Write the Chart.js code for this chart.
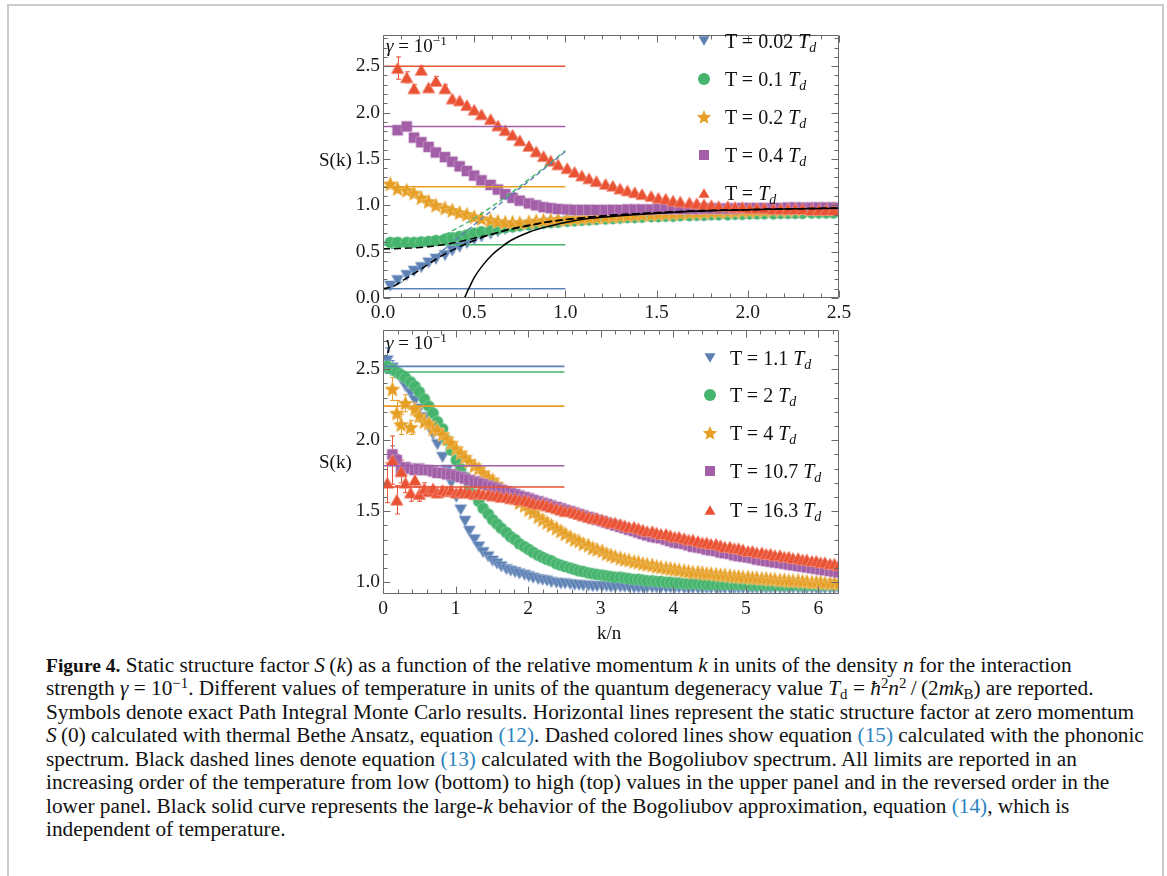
<!DOCTYPE html>
<html>
<head>
<meta charset="utf-8">
<title>Static structure factor S(k)</title>
<script src="https://cdn.jsdelivr.net/npm/chart.js@4.4.1/dist/chart.umd.min.js"></script>
<style>
  html, body { margin: 0; padding: 0; background: #fff; }
  #page { position: relative; width: 1167px; height: 876px; overflow: hidden;
          font-family: "Liberation Serif", "Times New Roman", serif; color: #111; }
  #frame { position: absolute; left: 7px; top: 4px; width: 1157px; height: 940px;
           border: 2px solid #cbcbcb; box-sizing: border-box; }
  canvas { position: absolute; }
  .lab { position: absolute; white-space: nowrap; font-size: 19px; line-height: 19px; }
  .legtxt { position: absolute; white-space: nowrap; font-size: 20px; line-height: 20px; }
  .legsym { position: absolute; overflow: visible; }
  sub { font-size: 70%; vertical-align: -0.28em; line-height: 0; }
  sup { font-size: 70%; vertical-align: 0.5em; line-height: 0; }
  #caption { position: absolute; left: 46px; top: 654px; font-size: 21.3px; line-height: 23.45px; }
  #caption div { white-space: nowrap; }
  #caption b { font-size: 19.5px; }
  .ref { color: #2b83c0; }
</style>
</head>
<body>
<div id="page">
  <div id="frame"></div>
  <canvas id="topChart" width="580" height="345" style="left:290px;top:20px"></canvas>
  <canvas id="botChart" width="580" height="310" style="left:290px;top:315px"></canvas>

  <div class="lab" style="left:319px;top:150px">S(k)</div>
  <div class="lab" style="left:319px;top:452px">S(k)</div>
  <div class="lab" style="left:386px;top:36px"><i>γ</i> = 10<sup>−1</sup></div>
  <div class="lab" style="left:386px;top:333px"><i>γ</i> = 10<sup>−1</sup></div>
  <div class="lab" style="left:597px;top:623px">k/n</div>
  <div id="legends"></div>

  <div id="caption">
    <div><b>Figure 4.</b> Static structure factor <i>S</i>&#8201;(<i>k</i>) as a function of the relative momentum <i>k</i> in units of the density <i>n</i> for the interaction</div>
    <div>strength <i>γ</i> = 10<sup>−1</sup>. Different values of temperature in units of the quantum degeneracy value <i>T</i><sub>d</sub> = <i>ħ</i><sup>2</sup><i>n</i><sup>2</sup>&#8201;/&#8201;(2<i>mk</i><sub>B</sub>) are reported.</div>
    <div>Symbols denote exact Path Integral Monte Carlo results. Horizontal lines represent the static structure factor at zero momentum</div>
    <div><i>S</i>&#8201;(0) calculated with thermal Bethe Ansatz, equation <span class="ref">(12)</span>. Dashed colored lines show equation <span class="ref">(15)</span> calculated with the phononic</div>
    <div>spectrum. Black dashed lines denote equation <span class="ref">(13)</span> calculated with the Bogoliubov spectrum. All limits are reported in an</div>
    <div>increasing order of the temperature from low (bottom) to high (top) values in the upper panel and in the reversed order in the</div>
    <div>lower panel. Black solid curve represents the large-<i>k</i> behavior of the Bogoliubov approximation, equation <span class="ref">(14)</span>, which is</div>
    <div>independent of temperature.</div>
  </div>
</div>

<script>
// Colores de las series
const BLUE = "#5e81b5";
const GREEN = "#45b46d";
const ORANGE = "#e69f24";
const PURPLE = "#a25ea6";
const RED = "#ea5234";

// ---------- Panel superior (T bajas) ----------
const topXTicks = [0, 0.5, 1.0, 1.5, 2.0, 2.5];
const topYTicks = [0, 0.5, 1.0, 1.5, 2.0, 2.5];
const topLegend = ["0.02", "0.1", "0.2", "0.4", ""];

const kTop = [0.04,0.08,0.13,0.17,0.21,0.25,0.29,0.34,0.38,0.42,0.46,0.50,0.54,0.59,0.63,0.67,0.71,0.75,0.80,0.84,
  0.88,0.92,0.96,1.01,1.05,1.09,1.13,1.17,1.22,1.26,1.30,1.34,1.38,1.42,1.47,1.51,1.55,1.59,1.63,1.68,
  1.72,1.76,1.80,1.84,1.89,1.93,1.97,2.01,2.05,2.09,2.14,2.18,2.22,2.26,2.30,2.35,2.39,2.43,2.47];

// T = 0.02 Td
const sTop002 = [0.13,0.19,0.245,0.29,0.33,0.38,0.42,0.46,0.51,0.55, 0.59,0.63,0.66,0.69,0.715,0.74,0.755,0.77,0.78,0.79,
  0.80,0.805,0.81,0.82,0.825,0.83,0.835,0.84,0.845,0.85, 0.855,0.86,0.86,0.865,0.87,0.87,0.875,0.875,0.88,0.88,
  0.885,0.885,0.89,0.89,0.89,0.895,0.895,0.90,0.90,0.90, 0.90,0.905,0.905,0.905,0.905,0.91,0.91,0.91,0.91];
// T = 0.1 Td
const sTop01 = [0.60,0.60,0.60,0.60,0.605,0.61,0.62,0.635,0.65,0.665, 0.68,0.70,0.715,0.73,0.745,0.76,0.77,0.78,0.79,0.80,
  0.81,0.815,0.82,0.83,0.835,0.84,0.845,0.85,0.855,0.86, 0.865,0.87,0.87,0.875,0.88,0.88,0.885,0.885,0.89,0.89,
  0.895,0.895,0.90,0.90,0.90,0.905,0.905,0.91,0.91,0.91, 0.91,0.915,0.915,0.915,0.915,0.92,0.92,0.92,0.92];
// T = 0.2 Td
const sTop02 = [1.23,1.18,1.16,1.13,1.08,1.04,1.00,0.97,0.945,0.92, 0.90,0.875,0.855,0.84,0.825,0.815,0.815,0.81,0.82,0.83,
  0.835,0.84,0.845,0.85,0.855,0.86,0.865,0.87,0.875,0.88, 0.885,0.89,0.895,0.90,0.90,0.905,0.91,0.91,0.915,0.92,
  0.92,0.925,0.93,0.93,0.935,0.935,0.94,0.94,0.945,0.945, 0.95,0.95,0.95,0.955,0.955,0.96,0.96,0.96,0.965];
// T = 0.4 Td
const sTop04 = [null,1.81,1.85,1.73,1.68,1.63,1.57,1.52,1.47,1.42, 1.37,1.32,1.27,1.22,1.17,1.12,1.08,1.05,1.02,1.00,
  0.98,0.97,0.96,0.955,0.95,0.95,0.95,0.95,0.95,0.95, 0.95,0.955,0.955,0.955,0.955,0.96,0.96,0.96,0.96,0.96,
  0.96,0.965,0.965,0.965,0.965,0.965,0.97,0.97,0.97,0.97, 0.97,0.97,0.975,0.975,0.975,0.975,0.975,0.975,0.975];
// T = Td
const sTop1 = [null,2.48,2.38,2.26,2.46,2.27,2.34,2.26,2.15,2.13, 2.08,2.03,1.98,1.93,1.86,1.81,1.76,1.70,1.64,1.58,
  1.53,1.48,1.44,1.40,1.36,1.32,1.29,1.26,1.23,1.21, 1.18,1.16,1.14,1.12,1.10,1.08,1.07,1.05,1.04,1.03,
  1.02,1.01,1.00,0.99,0.99,0.98,0.98,0.97,0.97,0.97, 0.96,0.96,0.96,0.96,0.96,0.95,0.95,0.95,0.95];
const errTop1 = [0,0.12,0.06,0.04,0.04,0.03,0.05,0.04];

// S(0) Bethe Ansatz (lineas horizontales), de T baja a alta
const s0Top = [0.10, 0.574, 1.20, 1.85, 2.50];
const s0TopX = [0, 1.0];

// curvas: Bogoliubov (negras discontinuas), fononicas (color discontinuas), k grande (negra)
const kCurve = [0,0.05,0.1,0.2,0.3,0.4,0.5,0.6,0.7,0.8,0.9,1.0,1.2,1.4,1.6,1.8,2.0,2.25,2.5];
const bogT002 = [0.10,0.12,0.18,0.30,0.43,0.535,0.62,0.69,0.74,0.78,0.82,0.845,0.885,0.91,0.93,0.945,0.953,0.962,0.969];
const bogT01 = [0.53,0.53,0.535,0.545,0.565,0.60,0.645,0.69,0.745,0.785,0.82,0.845,0.885,0.91,0.93,0.945,0.953,0.962,0.969];
const kPhon = [0,0.05,0.1,0.2,0.3,0.4,0.5,0.6,0.7,0.8,0.9,1.0];
const phonT002 = [0.10,0.12,0.17,0.32,0.47,0.63,0.79,0.95,1.11,1.26,1.42,1.58];
const phonT01 = [0.53,0.535,0.55,0.585,0.65,0.745,0.86,0.99,1.13,1.28,1.43,1.59];
const kLarge = [0.447,0.46,0.475,0.5,0.55,0.6,0.65,0.7,0.8,0.9,1.0,1.1,1.2,1.4,1.6,1.8,2.0,2.25,2.5];
const bogLargeK = [0,0.06,0.12,0.22,0.36,0.47,0.55,0.62,0.71,0.77,0.815,0.85,0.87,0.90,0.925,0.94,0.952,0.962,0.968];

// ---------- Panel inferior (T altas) ----------
const botXTicks = [0, 1, 2, 3, 4, 5, 6];
const botYTicks = [1.0, 1.5, 2.0, 2.5];
const botLegend = ["1.1", "2", "4", "10.7", "16.3"];

const kBot = [0.06,0.13,0.19,0.25,0.31,0.38,0.44,0.50,0.57,0.63, 0.69,0.75,0.82,0.88,0.94,1.01,1.07,1.13,1.19,1.26,
  1.32,1.38,1.45,1.51,1.57,1.63,1.70,1.76,1.82,1.88, 1.95,2.01,2.07,2.14,2.20,2.26,2.32,2.39,2.45,2.51,
  2.58,2.64,2.70,2.76,2.83,2.89,2.95,3.02,3.08,3.14, 3.20,3.27,3.33,3.39,3.46,3.52,3.58,3.64,3.71,3.77,
  3.83,3.90,3.96,4.02,4.08,4.15,4.21,4.27,4.34,4.40, 4.46,4.52,4.59,4.65,4.71,4.78,4.84,4.90,4.96,5.03,
  5.09,5.15,5.22,5.28,5.34,5.40,5.47,5.53,5.59,5.65, 5.72,5.78,5.84,5.91,5.97,6.03,6.09,6.16,6.22,6.28];

// T = 1.1 Td
const sBot11 = [2.56,2.51,2.47,2.43,2.38,2.33,2.28,2.22,2.16,2.10, 2.04,1.97,1.88,1.79,1.70,1.60,1.51,1.43,1.36,1.30,
  1.25,1.21,1.18,1.15,1.13,1.11,1.09,1.08,1.07,1.06, 1.05,1.04,1.03,1.02,1.015,1.01,1.00,0.995,0.99,0.99,
  0.985,0.98,0.98,0.975,0.975,0.97,0.97,0.97,0.97,0.965, 0.965,0.965,0.965,0.965,0.96,0.96,0.96,0.96,0.96,0.96,
  0.96,0.96,0.96,0.96,0.96,0.955,0.955,0.955,0.955,0.955, 0.955,0.955,0.955,0.955,0.955,0.955,0.955,0.955,0.955,0.955,
  0.955,0.955,0.955,0.955,0.955,0.955,0.955,0.955,0.955,0.955, 0.955,0.955,0.955,0.955,0.955,0.955,0.955,0.955,0.955,0.955];
const errBot11 = [0.09,0.05];
// T = 2 Td
const sBot2 = [2.52,2.50,2.48,2.46,2.44,2.41,2.38,2.34,2.29,2.24, 2.19,2.13,2.08,2.00,1.93,1.86,1.80,1.74,1.68,1.62,
  1.57,1.52,1.48,1.44,1.41,1.38,1.35,1.32,1.30,1.27, 1.25,1.23,1.21,1.19,1.175,1.16,1.15,1.13,1.12,1.11,
  1.10,1.09,1.08,1.075,1.065,1.06,1.055,1.05,1.045,1.04, 1.035,1.035,1.03,1.025,1.02,1.02,1.015,1.01,1.01,1.005,
  1.005,1.00,1.00,0.995,0.995,0.99,0.99,0.99,0.99,0.985, 0.985,0.985,0.985,0.985,0.985,0.985,0.985,0.985,0.985,0.985,
  0.98,0.98,0.98,0.98,0.98,0.98,0.98,0.98,0.98,0.98, 0.98,0.98,0.98,0.98,0.98,0.98,0.98,0.98,0.98,0.98];
// T = 4 Td
const sBot4 = [null,2.36,2.19,2.11,2.26,2.09,2.22,2.17,2.13,2.12, 2.08,2.07,2.04,2.01,1.98,1.94,1.91,1.88,1.85,1.82,
  1.80,1.77,1.74,1.72,1.69,1.66,1.64,1.61,1.59,1.56, 1.54,1.51,1.49,1.46,1.44,1.42,1.40,1.38,1.36,1.34,
  1.32,1.30,1.29,1.27,1.26,1.24,1.23,1.22,1.20,1.19, 1.18,1.17,1.16,1.155,1.145,1.14,1.13,1.125,1.12,1.11,
  1.105,1.10,1.095,1.09,1.085,1.08,1.075,1.07,1.07,1.065, 1.06,1.06,1.055,1.05,1.05,1.045,1.04,1.04,1.035,1.035,
  1.03,1.03,1.025,1.025,1.02,1.02,1.015,1.015,1.01,1.01, 1.01,1.005,1.005,1.00,1.00,1.00,0.995,0.995,0.995,0.99];
const errBot4 = [0,0.08,0.09,0.07,0.06,0.05,0.05,0.04,0.03,0.03];
// T = 10.7 Td
const sBot107 = [null,1.90,1.86,1.79,1.81,1.80,1.79,1.80,1.79,1.79, 1.78,1.77,1.77,1.76,1.76,1.75,1.74,1.73,1.72,1.71,
  1.70,1.69,1.68,1.67,1.66,1.65,1.64,1.63,1.62,1.61, 1.60,1.59,1.58,1.57,1.56,1.55,1.54,1.53,1.52,1.51,
  1.50,1.49,1.48,1.47,1.46,1.45,1.44,1.43,1.42,1.41, 1.40,1.39,1.38,1.37,1.36,1.35,1.34,1.33,1.32,1.315,
  1.31,1.30,1.29,1.28,1.275,1.27,1.26,1.25,1.245,1.24, 1.23,1.225,1.22,1.21,1.205,1.20,1.19,1.185,1.18,1.175,
  1.17,1.16,1.155,1.15,1.145,1.14,1.135,1.13,1.125,1.12, 1.115,1.11,1.105,1.10,1.095,1.09,1.085,1.08,1.075,1.07];
const errBot107 = [0,0.06,0.04];
// T = 16.3 Td
const sBot163 = [1.70,1.86,1.58,1.78,1.70,1.63,1.72,1.62,1.66,1.64, 1.66,1.63,1.65,1.64,1.65,1.63,1.64,1.63,1.63,1.62,
  1.63,1.62,1.62,1.61,1.61,1.60,1.60,1.59,1.59,1.58, 1.58,1.57,1.56,1.55,1.55,1.54,1.53,1.52,1.51,1.50,
  1.50,1.49,1.48,1.47,1.46,1.45,1.45,1.44,1.43,1.42, 1.42,1.41,1.40,1.39,1.39,1.38,1.37,1.36,1.36,1.35,
  1.34,1.34,1.33,1.32,1.32,1.31,1.30,1.30,1.29,1.28, 1.28,1.27,1.27,1.26,1.25,1.25,1.24,1.24,1.23,1.22,
  1.22,1.21,1.21,1.20,1.20,1.19,1.19,1.18,1.18,1.17, 1.17,1.16,1.16,1.15,1.15,1.14,1.14,1.13,1.13,1.12];
const errBot163 = [0.14,0.17,0.10,0.08,0.07,0.06,0.05,0.05,0.04,0.03];

// S(0) Bethe Ansatz, panel inferior (orden invertido)
const s0Bot = [2.52, 2.48, 2.24, 1.82, 1.67];
const s0BotX = [0, 2.5];

// ---------- Marcadores ----------
function shapePath(shape, s) {
  const r = s / 2;
  const h = s * 0.866;
  if (shape === "down") return [[-r, -h / 2], [r, -h / 2], [0, h / 2]];
  if (shape === "up") return [[0, -h / 2], [r, h / 2], [-r, h / 2]];
  if (shape === "square") return [[-r, -r], [r, -r], [r, r], [-r, r]];
  if (shape === "star") {
    const p = [];
    for (let i = 0; i < 10; i++) {
      const a = -Math.PI / 2 + (i * Math.PI) / 5;
      const rr = i % 2 ? r * 0.45 : r;
      p.push([rr * Math.cos(a), rr * Math.sin(a) + r * 0.08]);
    }
    return p;
  }
  return null;
}

// color mas claro para el borde suave de los marcadores
function tint(hex, f) {
  const n = parseInt(hex.slice(1), 16);
  const c = [(n >> 16) & 255, (n >> 8) & 255, n & 255].map((v) => Math.round(v + (255 - v) * f));
  return `rgb(${c[0]},${c[1]},${c[2]})`;
}

function markerCanvas(shape, color, s) {
  const c = document.createElement("canvas");
  const n = Math.ceil(s) + 4;
  c.width = n;
  c.height = n;
  const g = c.getContext("2d");
  g.translate(n / 2, n / 2);
  g.beginPath();
  if (shape === "circle") g.arc(0, 0, s / 2, 0, Math.PI * 2);
  else shapePath(shape, s).forEach(([x, y], i) => (i ? g.lineTo(x, y) : g.moveTo(x, y)));
  g.closePath();
  g.lineJoin = "round";
  g.lineWidth = 1.2;
  g.strokeStyle = tint(color, 0.45);
  g.stroke();
  g.fillStyle = color;
  g.fill();
  return c;
}

function markerSvg(shape, color, s, cx, cy) {
  const box = 20;
  let inner;
  if (shape === "circle") inner = `<circle cx="${box / 2}" cy="${box / 2}" r="${s / 2}" fill="${color}"/>`;
  else {
    const pts = shapePath(shape, s).map(([x, y]) => `${(x + box / 2).toFixed(2)},${(y + box / 2).toFixed(2)}`).join(" ");
    inner = `<polygon points="${pts}" fill="${color}"/>`;
  }
  return `<svg class="legsym" width="${box}" height="${box}" style="left:${cx - box / 2}px;top:${cy - box / 2}px">${inner}</svg>`;
}

const SIZES = { down: 11.5, up: 12, circle: 11, square: 10, star: 15 };

// ---------- Datasets ----------
function pts(xs, ys, errs) {
  const out = [];
  xs.forEach((x, i) => {
    if (ys[i] == null) return;
    out.push({ x: x, y: ys[i], e: errs ? errs[i] || 0 : 0 });
  });
  return out;
}

function markerSet(xs, ys, errs, shape, color, order) {
  return {
    type: "scatter",
    data: pts(xs, ys, errs),
    pointStyle: markerCanvas(shape, color, SIZES[shape]),
    pointRadius: 5,
    pointHoverRadius: 5,
    borderColor: color,
    backgroundColor: color,
    showLine: false,
    order: order,
  };
}

function lineSet(xs, ys, color, dash, width, order) {
  return {
    type: "line",
    data: pts(xs, ys),
    borderColor: color,
    borderWidth: width,
    borderDash: dash,
    pointRadius: 0,
    fill: false,
    cubicInterpolationMode: "monotone",
    order: order,
  };
}

function hLines(levels, xr, colors) {
  return levels.map((v, i) => lineSet(xr, [v, v], colors[i], [], 1.6, 5));
}

// ---------- Plugins ----------
const errorBars = {
  id: "errorBars",
  beforeDatasetsDraw(chart) {
    const { ctx, chartArea: a, scales } = chart;
    ctx.save();
    ctx.beginPath();
    ctx.rect(a.left, a.top, a.right - a.left, a.bottom - a.top);
    ctx.clip();
    ctx.lineWidth = 1;
    chart.data.datasets.forEach((ds) => {
      ds.data.forEach((p) => {
        if (!p.e) return;
        const px = Math.round(scales.x.getPixelForValue(p.x)) + 0.5;
        const y1 = scales.y.getPixelForValue(p.y - p.e);
        const y2 = scales.y.getPixelForValue(p.y + p.e);
        ctx.strokeStyle = ds.borderColor;
        ctx.beginPath();
        ctx.moveTo(px, y1); ctx.lineTo(px, y2);
        ctx.moveTo(px - 2.5, y1); ctx.lineTo(px + 2.5, y1);
        ctx.moveTo(px - 2.5, y2); ctx.lineTo(px + 2.5, y2);
        ctx.stroke();
      });
    });
    ctx.restore();
  },
};

// marco con marcas hacia dentro (estilo Mathematica)
const frameTicks = {
  id: "frameTicks",
  afterDatasetsDraw(chart, args, opts) {
    const { ctx, chartArea: a, scales: { x, y } } = chart;
    ctx.save();
    ctx.strokeStyle = "#6a6a6a";
    ctx.lineWidth = 1;
    ctx.beginPath();
    const L = Math.round(a.left) + 0.5, R = Math.round(a.right) - 0.5;
    const T = Math.round(a.top) + 0.5, B = Math.round(a.bottom) - 0.5;
    ctx.rect(L, T, R - L, B - T);
    const isMajor = (v, list) => list.some((m) => Math.abs(m - v) < 1e-6);
    for (let v = Math.ceil(x.min / opts.xStep - 1e-9) * opts.xStep; v <= x.max + 1e-9; v += opts.xStep) {
      const len = isMajor(v, opts.xMajor) ? 7 : 4;
      const px = Math.round(x.getPixelForValue(v)) + 0.5;
      ctx.moveTo(px, B); ctx.lineTo(px, B - len);
      ctx.moveTo(px, T); ctx.lineTo(px, T + len);
    }
    for (let v = Math.ceil(y.min / opts.yStep - 1e-9) * opts.yStep; v <= y.max + 1e-9; v += opts.yStep) {
      const len = isMajor(v, opts.yMajor) ? 7 : 4;
      const py = Math.round(y.getPixelForValue(v)) + 0.5;
      ctx.moveTo(L, py); ctx.lineTo(L + len, py);
      ctx.moveTo(R, py); ctx.lineTo(R - len, py);
    }
    ctx.stroke();
    ctx.restore();
  },
};

const tickFont = { family: "'Liberation Serif', 'Times New Roman', serif", size: 19.5 };

function makeChart(id, cfg) {
  return new Chart(document.getElementById(id), {
    type: "scatter",
    data: { datasets: cfg.datasets },
    options: {
      animation: false,
      responsive: false,
      events: [],
      layout: { padding: { left: 0, top: 11, right: 31, bottom: 0 } },
      plugins: {
        legend: { display: false },
        tooltip: { enabled: false },
        frameTicks: cfg.ticks,
      },
      scales: {
        x: {
          type: "linear", min: cfg.xMin, max: cfg.xMax,
          grid: { display: false, drawTicks: false }, border: { display: false },
          ticks: { autoSkip: false, maxRotation: 0, padding: 3, color: "#1a1a1a", font: tickFont, callback: cfg.xFmt },
          afterBuildTicks: (s) => { s.ticks = cfg.xTicks.map((v) => ({ value: v })); },
          afterFit: (s) => { s.height = cfg.xAxisH; },
        },
        y: {
          type: "linear", min: cfg.yMin, max: cfg.yMax,
          grid: { display: false, drawTicks: false }, border: { display: false },
          ticks: { autoSkip: false, padding: 3, color: "#1a1a1a", font: tickFont, callback: (v) => v.toFixed(1) },
          afterBuildTicks: (s) => { s.ticks = cfg.yTicks.map((v) => ({ value: v })); },
          afterFit: (s) => { s.width = 93; },
        },
      },
    },
    plugins: [errorBars, frameTicks],
  });
}

const colors = [BLUE, GREEN, ORANGE, PURPLE, RED];
const shapes = ["down", "circle", "star", "square", "up"];

makeChart("topChart", {
  xMin: 0, xMax: 2.5, yMin: 0, yMax: 2.84, xAxisH: 67,
  xTicks: topXTicks, yTicks: topYTicks, xFmt: (v) => v.toFixed(1),
  ticks: { xStep: 0.1, yStep: 0.1, xMajor: topXTicks, yMajor: topYTicks },
  datasets: [
    markerSet(kTop, sTop002, null, "down", BLUE, 14),
    markerSet(kTop, sTop01, null, "circle", GREEN, 13),
    markerSet(kTop, sTop02, null, "star", ORANGE, 12),
    markerSet(kTop, sTop04, null, "square", PURPLE, 11),
    markerSet(kTop, sTop1, errTop1, "up", RED, 10),
    ...hLines(s0Top, s0TopX, colors),
    lineSet(kPhon, phonT002, BLUE, [5, 3], 1.4, 4),
    lineSet(kPhon, phonT01, GREEN, [5, 3], 1.4, 4),
    lineSet(kCurve, bogT002, "#000", [7, 4], 1.5, 3),
    lineSet(kCurve, bogT01, "#000", [7, 4], 1.5, 3),
    lineSet(kLarge, bogLargeK, "#000", [], 1.5, 2),
  ],
});

makeChart("botChart", {
  xMin: 0, xMax: 6.2832, yMin: 0.917, yMax: 2.778, xAxisH: 31,
  xTicks: botXTicks, yTicks: botYTicks, xFmt: (v) => v.toFixed(0),
  ticks: { xStep: 0.2, yStep: 0.1, xMajor: botXTicks, yMajor: botYTicks },
  datasets: [
    markerSet(kBot, sBot11, errBot11, "down", BLUE, 14),
    markerSet(kBot, sBot2, null, "circle", GREEN, 13),
    markerSet(kBot, sBot4, errBot4, "star", ORANGE, 12),
    markerSet(kBot, sBot107, errBot107, "square", PURPLE, 11),
    markerSet(kBot, sBot163, errBot163, "up", RED, 10),
    ...hLines(s0Bot, s0BotX, colors),
  ],
});

// ---------- Leyendas (texto HTML) ----------
function buildLegend(labels, mx, tx, ys) {
  let html = "";
  labels.forEach((num, i) => {
    const shape = shapes[i];
    const s = shape === "star" ? 15 : shape === "circle" ? 12 : shape === "square" ? 10 : 11;
    html += markerSvg(shape, colors[i], s, mx, ys[i]);
    const txt = num ? `T = ${num} <i>T</i><sub><i>d</i></sub>` : `T = <i>T</i><sub><i>d</i></sub>`;
    html += `<div class="legtxt" style="left:${tx}px;top:${ys[i] - 10}px">${txt}</div>`;
  });
  return html;
}

document.getElementById("legends").innerHTML =
  buildLegend(topLegend, 704, 725, [41, 79, 117, 155, 193]) +
  buildLegend(botLegend, 710, 730, [358, 395, 433, 471, 510]);
</script>
</body>
</html>
